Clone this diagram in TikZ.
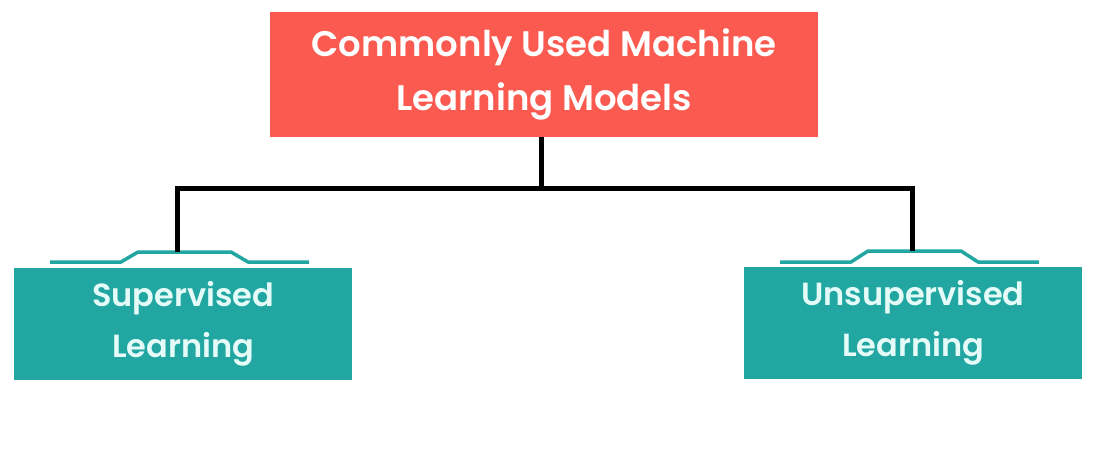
\documentclass[tikz,border=0pt]{standalone}
\usepackage{fontspec}
\setmainfont{Poppins}[UprightFont={* Medium}, BoldFont={* SemiBold}]
\definecolor{topred}{HTML}{FA5A4F}
\definecolor{tealbox}{HTML}{22A6A2}
\definecolor{tealtext}{HTML}{E4FBF8}
\tikzset{
  topbox/.style={fill=topred, text=white, minimum width=548pt, minimum height=125pt, inner sep=0pt, align=center, font=\fontsize{35.5}{54}\selectfont\bfseries},
  leafbox/.style={fill=tealbox, text=tealtext, minimum width=338pt, minimum height=112pt, inner sep=0pt, align=center, font=\fontsize{32}{51}\selectfont\bfseries},
  tabline/.style={draw=tealbox, line width=3.5pt, line join=round},
  conn/.style={draw=black, line width=5pt}
}
\begin{document}
\begin{tikzpicture}[x=1pt,y=-1pt]
\useasboundingbox (0,0) rectangle (1096,460);
\node[topbox] (top) at (544,74.5) {Commonly Used Machine\\Learning Models};
\node[leafbox] (sup) at (183,324) {Supervised\\Learning};
\node[leafbox] (uns) at (913,323) {Unsupervised\\Learning};
% tabs
\draw[tabline] (50,262) -- (121,262) -- (138,252) -- (231,252) -- (248,262) -- (309,262);
\draw[tabline] (780,262) -- (851,262) -- (868,251) -- (961,251) -- (978,262) -- (1039,262);
\coordinate (supTab) at (177,252);
\coordinate (unsTab) at (912,251);
\coordinate (junc) at (541,188);
\draw[conn] (top.south -| junc) -- (junc);
\draw[conn] (junc) -| (supTab);
\draw[conn] (junc) -| (unsTab);
\end{tikzpicture}
\end{document}
